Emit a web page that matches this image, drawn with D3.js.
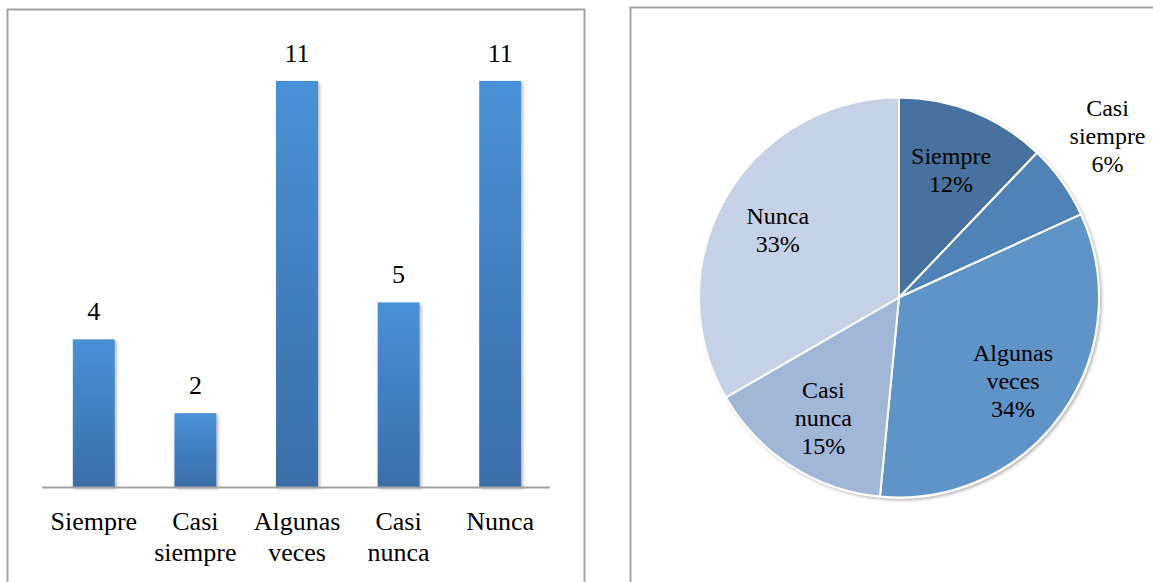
<!DOCTYPE html>
<html>
<head>
<meta charset="utf-8">
<script src="https://cdn.jsdelivr.net/npm/d3@7"></script>
<style>
  body { margin: 0; background: #fff; }
</style>
</head>
<body>
<div id="container"></div>
<script>
// data
var categories = ["Siempre", "Casi siempre", "Algunas veces", "Casi nunca", "Nunca"];
var barLabelLines = [["Siempre"], ["Casi", "siempre"], ["Algunas", "veces"], ["Casi", "nunca"], ["Nunca"]];
var counts = [4, 2, 11, 5, 11];
var pieLabelLines = [["Siempre"], ["Casi", "siempre"], ["Algunas", "veces"], ["Casi", "nunca"], ["Nunca"]];
var percentLabels = ["12%", "6%", "34%", "15%", "33%"];
var pieColors = ["#46729f", "#5082b6", "#5f94c8", "#a2b6d8", "#c6d2e5"];

var W = 1153, H = 582;
var FONT = "'Liberation Serif', monospace";

var svg = d3.select("#container")
  .append("svg")
  .attr("width", W)
  .attr("height", H);

var defs = svg.append("defs");

var grad = defs.append("linearGradient")
  .attr("id", "barGrad")
  .attr("x1", 0).attr("y1", 0).attr("x2", 0).attr("y2", 1);
grad.append("stop").attr("offset", "0%").attr("stop-color", "#4a91d7");
grad.append("stop").attr("offset", "100%").attr("stop-color", "#3a6ea8");

var shadow = defs.append("filter")
  .attr("id", "shadow")
  .attr("x", "-20%").attr("y", "-20%").attr("width", "140%").attr("height", "140%");
shadow.append("feDropShadow")
  .attr("dx", 2).attr("dy", 2).attr("stdDeviation", 1.5)
  .attr("flood-color", "#000").attr("flood-opacity", 0.25);

// frames
svg.append("rect")
  .attr("x", 7.5).attr("y", 9.5)
  .attr("width", 577).attr("height", 620)
  .attr("fill", "none").attr("stroke", "#a3a3a3").attr("stroke-width", 2);

svg.append("rect")
  .attr("x", 630.5).attr("y", 7.5)
  .attr("width", 620).attr("height", 620)
  .attr("fill", "none").attr("stroke", "#a3a3a3").attr("stroke-width", 2);

// ---- bar chart ----
var x = d3.scaleBand()
  .domain(categories)
  .range([43, 551])
  .paddingInner(0.587)
  .paddingOuter(0.2935);

var y = d3.scaleLinear()
  .domain([0, 12])
  .range([487, 44]);

var g = svg.append("g");

g.selectAll("rect.bar")
  .data(counts)
  .enter().append("rect")
  .attr("class", "bar")
  .attr("x", function(d, i) { return x(categories[i]); })
  .attr("y", function(d) { return y(d); })
  .attr("width", x.bandwidth())
  .attr("height", function(d) { return y(0) - y(d); })
  .attr("fill", "url(#barGrad)")
  .attr("filter", "url(#shadow)");

g.selectAll("text.val")
  .data(counts)
  .enter().append("text")
  .attr("class", "val")
  .attr("x", function(d, i) { return x(categories[i]) + x.bandwidth() / 2; })
  .attr("y", function(d) { return y(d) - 19; })
  .attr("text-anchor", "middle")
  .style("font-family", FONT)
  .style("font-size", "26px")
  .text(function(d) { return d; });

// axis line
var axis = g.append("g")
  .attr("transform", "translate(0," + y(0) + ")")
  .call(d3.axisBottom(x).tickSize(0).tickFormat(""));
axis.select(".domain")
  .attr("stroke", "#a3a3a3")
  .attr("stroke-width", 2)
  .attr("d", "M42,0.5H550");

var cat = g.selectAll("text.cat")
  .data(categories)
  .enter().append("text")
  .attr("class", "cat")
  .attr("text-anchor", "middle")
  .style("font-family", FONT)
  .style("font-size", "26px")
  .attr("x", function(d) { return x(d) + x.bandwidth() / 2; })
  .attr("y", 530);
cat.selectAll("tspan")
  .data(function(d, i) { return barLabelLines[i]; })
  .enter().append("tspan")
  .attr("x", function() { return this.parentNode.getAttribute("x"); })
  .attr("dy", function(d, i) { return i === 0 ? 0 : 31; })
  .text(function(d) { return d; });

// ---- pie chart ----
var cx = 899, cy = 297.5, r = 200;

var pie = d3.pie().sort(null).value(function(d) { return d; });
var arcs = pie(counts);
var arc = d3.arc().innerRadius(0).outerRadius(r);
var total = d3.sum(counts);

var pg = svg.append("g").attr("transform", "translate(" + cx + "," + cy + ")");

pg.append("g")
  .attr("filter", "url(#shadow)")
  .selectAll("path")
  .data(arcs)
  .enter().append("path")
  .attr("d", arc)
  .attr("fill", function(d, i) { return pieColors[i]; })
  .attr("stroke", "#fff")
  .attr("stroke-width", 2)
  .attr("stroke-linejoin", "round");

var lineH = 28;
var pl = pg.selectAll("text.pl")
  .data(arcs)
  .enter().append("text")
  .attr("class", "pl")
  .attr("text-anchor", "middle")
  .style("font-family", FONT)
  .style("font-size", "24px")
  .attr("transform", function(d) {
    var small = d.value / total < 0.08;
    var lr = small ? r * 1.28 : r * 0.7;
    var c = d3.arc().innerRadius(lr).outerRadius(lr).centroid(d);
    // outside labels sit a little higher, like the original
    var dy = small ? -13 : 2;
    return "translate(" + c[0] + "," + (c[1] + dy) + ")";
  });
pl.each(function(d, i) {
  var lines = pieLabelLines[i].concat([percentLabels[i]]);
  var t = d3.select(this);
  var y0 = -(lines.length - 1) * lineH / 2;
  lines.forEach(function(s, k) {
    t.append("tspan")
      .attr("x", 0)
      .attr("y", y0 + k * lineH)
      .attr("dy", "0.35em")
      .text(s);
  });
});
</script>
</body>
</html>
